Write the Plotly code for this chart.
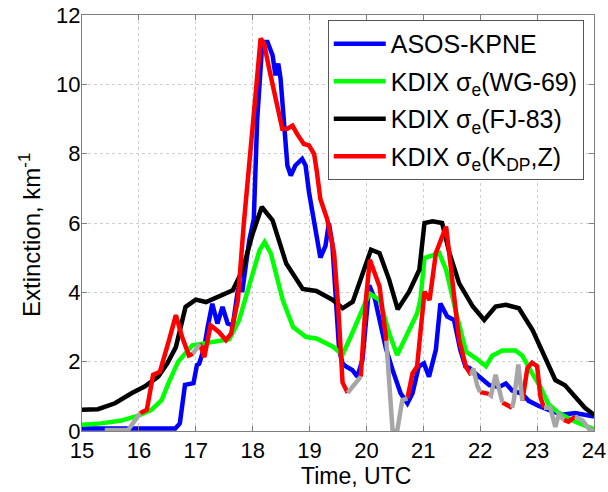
import plotly.graph_objects as go

# ASOS-KPNE (blue)
asos_t = [15.0, 15.8, 16.64, 16.72, 16.78, 16.81, 16.96, 17.02, 17.06, 17.15, 17.21, 17.29, 17.38, 17.47, 17.56,
          17.65, 17.74, 17.82, 17.94, 18.02, 18.08, 18.17, 18.26, 18.35, 18.40, 18.45, 18.49, 18.55, 18.61,
          18.67, 18.75, 18.87, 18.93, 18.99, 19.11, 19.19, 19.28, 19.34, 19.40, 19.47, 19.52, 19.58, 19.64,
          19.75, 19.84, 19.93, 20.05, 20.15, 20.25, 20.34, 20.46, 20.60, 20.72, 20.81, 20.92, 21.01, 21.10,
          21.22, 21.30, 21.42, 21.54, 21.65, 21.74, 21.81, 21.98, 22.16, 22.33, 22.45, 22.56, 22.74, 22.85,
          23.03, 23.26, 23.44, 23.67, 23.84, 24.0]
asos_v = [0.07, 0.07, 0.07, 0.22, 0.89, 1.33, 1.38, 1.9, 1.94, 2.42, 3.0, 3.67, 3.1, 3.58, 3.1,
          3.05, 4.06, 4.06, 5.5, 6.11, 9.0, 11.22, 11.22, 10.84, 10.26, 10.6, 10.17, 8.72, 7.66,
          7.37, 7.66, 7.85, 7.66, 6.89, 5.73, 5.0, 5.34, 6.0, 5.4, 3.39, 2.34, 1.95, 1.86,
          1.76, 1.57, 2.05, 4.2, 3.8, 3.1, 2.4, 1.76, 1.09, 0.80, 1.09, 1.86, 1.95, 1.57,
          2.34, 3.68, 3.30, 3.2, 2.34, 1.86, 1.82, 1.57, 1.32, 1.27, 1.37, 1.17, 1.07, 0.87,
          0.72, 0.57, 0.47, 0.52, 0.47, 0.42]

# KDIX sigma_e (WG-69) (green)
wg_t = [15.0, 15.34, 15.69, 15.99, 16.22, 16.4, 16.52, 16.69, 16.94, 17.29, 17.59, 17.76, 17.94, 18.12, 18.21,
        18.32, 18.53, 18.71, 18.94, 19.12, 19.41, 19.58, 19.75, 19.99, 20.05, 20.23, 20.4, 20.54, 20.75,
        20.89, 20.95, 21.02, 21.28, 21.40, 21.58, 21.75, 21.93, 22.1, 22.21, 22.39, 22.62, 22.74, 22.91,
        23.06, 23.2, 23.38, 23.67, 24.0]
wg_v = [0.18, 0.22, 0.30, 0.44, 0.61, 0.89, 1.38, 2.0, 2.47, 2.57, 2.65, 3.19, 4.15, 5.21, 5.45,
        5.12, 3.77, 3.0, 2.71, 2.67, 2.43, 2.2, 2.82, 3.78, 3.97, 3.78, 2.82, 2.19, 2.91,
        3.39, 3.8, 4.99, 5.13, 4.65, 3.39, 2.29, 2.09, 1.87, 2.17, 2.32, 2.32, 2.17, 1.67,
        1.27, 0.77, 0.52, 0.27, 0.05]

# KDIX sigma_e (FJ-83) (black)
fj_t = [15.0, 15.28, 15.58, 15.87, 16.1, 16.34, 16.5, 16.65, 16.82, 17.0, 17.18, 17.41, 17.65, 17.82, 18.0,
        18.16, 18.35, 18.59, 18.88, 19.12, 19.41, 19.58, 19.76, 20.08, 20.23, 20.40, 20.55, 20.75, 20.93,
        21.02, 21.16, 21.33, 21.46, 21.63, 21.87, 22.07, 22.27, 22.45, 22.68, 22.92, 23.15, 23.32, 23.49,
        23.67, 23.84, 24.0]
fj_v = [0.61, 0.63, 0.8, 1.09, 1.28, 1.57, 1.95, 2.42, 3.58, 3.79, 3.72, 3.87, 4.06, 4.63, 5.69,
        6.46, 6.08, 4.83, 4.1, 4.04, 3.78, 3.54, 3.73, 5.23, 5.13, 4.36, 3.51, 4.02, 4.65,
        6.0, 6.05, 6.0, 5.13, 4.26, 3.59, 3.20, 3.59, 3.64, 3.54, 2.91, 2.04, 1.47, 1.32,
        0.97, 0.67, 0.47]

# KDIX sigma_e (KDP, Z) (red); None marks gaps
kdp_t = [16.02, 16.14, 16.25, 16.37, 16.53, 16.65, 16.76, 16.88, 16.95, None,
         17.07, 17.15, 17.26, 17.41, 17.53, 17.62, 17.74, 17.84, 18.14, 18.2, 18.29, 18.4, 18.52, 18.61,
         18.7, 18.78, 18.9, 18.99, 19.08, 19.13, 19.19, 19.31, 19.43, 19.5, 19.58, 19.67, None,
         19.9, 19.99, 20.06, 20.23, 20.35, None,
         20.72, 20.81, 20.89, 20.95, 21.02, 21.11, 21.22, 21.4, 21.52, 21.63, 21.75, 21.84, None,
         22.0, 22.15, None, 22.39, 22.56, None, 22.74, 22.83, 22.91, 23.0, 23.06, 23.12, None,
         23.47, 23.55, 23.67]
kdp_v = [0.51, 0.61, 1.62, 1.71, 2.62, 3.34, 2.71, 2.18, 2.23, None,
         2.52, 2.13, 3.05, 2.85, 2.62, 2.81, 3.77, 5.9, 11.32, 11.18, 10.45, 9.59, 8.72, 8.72,
         8.81, 8.57, 8.28, 8.24, 7.99, 7.46, 6.69, 6.11, 5.15, 3.68, 1.4, 1.1, None,
         1.57, 3.78, 4.94, 4.17, 2.6, None,
         0.94, 1.66, 1.86, 2.82, 4.02, 3.78, 5.13, 5.9, 4.17, 2.62, 1.85, 1.61, None,
         1.12, 1.07, None, 0.82, 0.67, None, 0.87, 1.82, 1.97, 1.87, 0.97, 0.67, None,
         0.32, 0.27, 0.42]

# gray segments
gray_t = [15.4, 15.81, 16.02, None, 16.95, 17.07, None, 19.67, 19.9, None,
          20.35, 20.46, 20.54, 20.63, 20.72, None,
          21.84, 21.88, 21.95, 22.0, None, 22.15, 22.19, 22.27, 22.36, 22.39, None,
          22.56, 22.59, 22.67, 22.74, None, 23.12, 23.23, 23.32, 23.38, 23.47, None,
          23.67, 23.80, 23.93, 24.0]
gray_v = [0.03, 0.03, 0.51, None, 2.23, 2.52, None, 1.1, 1.57, None,
          2.6, 0.0, 0.0, 0.89, 0.94, None,
          1.61, 1.8, 1.3, 1.12, None, 1.07, 1.02, 1.62, 0.9, 0.82, None,
          0.67, 0.87, 1.92, 0.87, None, 0.67, 0.67, 0.12, 0.47, 0.32, None,
          0.42, 0.3, 0.02, 0.0]

names = ["ASOS-KPNE", "KDIX σ<sub>e</sub>(WG-69)", "KDIX σ<sub>e</sub>(FJ-83)",
         "KDIX σ<sub>e</sub>(K<sub>DP</sub>,Z)"]
x_ticks = list(range(15, 25))
y_ticks = list(range(0, 13, 2))
x_title = "Time, UTC"
y_title = "Extinction, km<sup>-1</sup>"

FONT = "Liberation Sans, Arial, sans-serif"
LW = 4.5

fig = go.Figure()
fig.add_trace(go.Scatter(x=asos_t, y=asos_v, mode="lines", name=names[0],
                         line=dict(color="#0000ff", width=LW), legendgroup="a"))
fig.add_trace(go.Scatter(x=wg_t, y=wg_v, mode="lines", name=names[1],
                         line=dict(color="#00ff00", width=LW), legendgroup="b"))
fig.add_trace(go.Scatter(x=fj_t, y=fj_v, mode="lines", name=names[2],
                         line=dict(color="#000000", width=LW), legendgroup="c"))
fig.add_trace(go.Scatter(x=kdp_t, y=kdp_v, mode="lines", name=names[3],
                         line=dict(color="#ff0000", width=LW), legendgroup="d", connectgaps=False))
fig.add_trace(go.Scatter(x=gray_t, y=gray_v, mode="lines", showlegend=False,
                         line=dict(color="#a6a6a6", width=LW), connectgaps=False))

axis_common = dict(showline=True, linecolor="#7f7f7f", linewidth=1, mirror="ticks",
                   ticks="inside", ticklen=5, tickcolor="#7f7f7f", automargin=False,
                   ticklabeloverflow="allow",
                   showgrid=True, gridcolor="#cfcfcf", griddash="dot", gridwidth=1,
                   zeroline=False, tickfont=dict(size=22, color="black", family=FONT))

fig.update_xaxes(range=[15, 24], tickvals=x_ticks, ticktext=[str(v) for v in x_ticks],
                 ticklabelstandoff=0, **axis_common)
fig.update_yaxes(range=[0, 12], tickvals=y_ticks, ticktext=[str(v) for v in y_ticks],
                 ticklabelstandoff=-4, **axis_common)

# axis titles as annotations for exact placement
fig.add_annotation(text=x_title, xref="paper", yref="paper", x=0.535, y=-0.109,
                   xanchor="center", yanchor="middle", showarrow=False,
                   font=dict(size=23, color="black", family=FONT))
fig.add_annotation(text=y_title, xref="paper", yref="paper", x=-0.1016, y=0.471,
                   xanchor="center", yanchor="middle", showarrow=False, textangle=-90,
                   font=dict(size=24, color="black", family=FONT))

fig.update_layout(
    width=608, height=492,
    margin=dict(l=82, r=14, t=15, b=61),
    paper_bgcolor="white", plot_bgcolor="white",
    font=dict(family=FONT, color="black"),
    showlegend=True,
    legend=dict(x=0.480, y=0.988, xanchor="left", yanchor="top",
                bgcolor="white", bordercolor="#555555", borderwidth=1,
                font=dict(size=25, family=FONT, color="black"),
                traceorder="grouped", tracegroupgap=2, itemwidth=52),
)

# remove the default 8px page margin so the figure fills the window exactly
fig.write_html("out.html", config={"displayModeBar": False},
               post_script="document.body.style.margin='0';")
